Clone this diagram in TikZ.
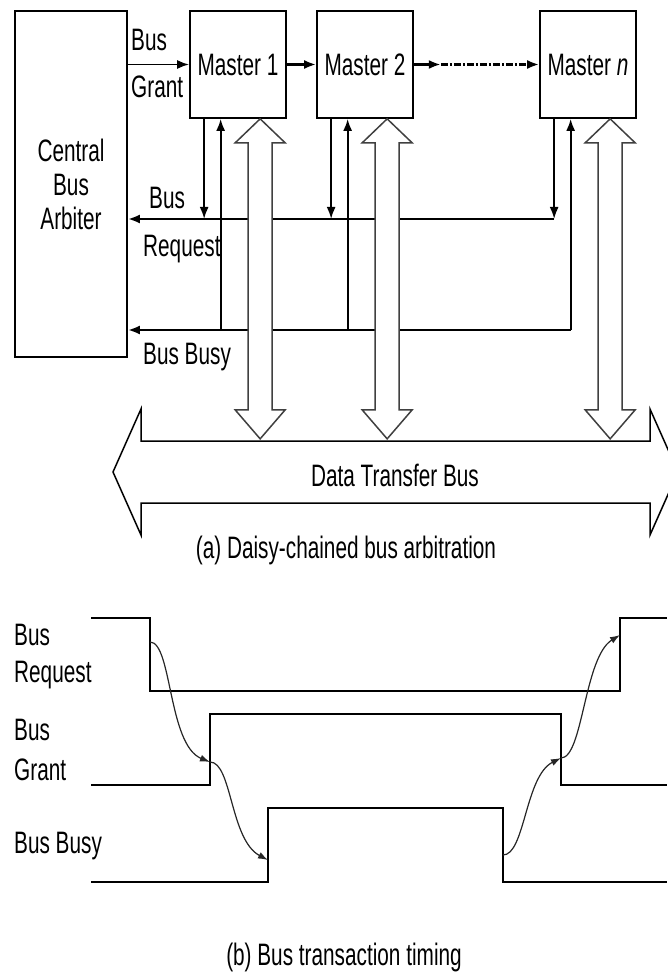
\documentclass[tikz,border=0pt]{standalone}
\usepackage{fontspec}
\setmainfont{Liberation Sans}[FakeStretch=0.67]
\usetikzlibrary{arrows.meta,positioning,calc}

\begin{document}
\begin{tikzpicture}[>={Latex[length=12pt,width=9pt]},x=1pt,y=-1pt,
  every node/.style={font=\fontsize{31}{34}\selectfont},
  box/.style={draw,line width=1.7pt,minimum width=96pt,minimum height=107pt,inner sep=0pt},
  lbl/.style={anchor=base west,inner sep=0pt},
  wire/.style={line width=1.9pt},
  busline/.style={line width=2.6pt},
  hollow/.style={draw=black!75,line width=1.5pt,fill=white},
  signal/.style={line width=2.5pt},
  cause/.style={line width=1.2pt,draw=black!85,->,>={Latex[length=10pt,width=7pt]}}]
\useasboundingbox (0,0) rectangle (667,973);

% (a) daisy chain
\node[box,minimum width=112pt,minimum height=346pt,align=center] (arb) at (71,184) {Central\\Bus\\Arbiter};
\node[box] (m1) at (238,64.5) {Master 1};
\node[box] (m2) at (365,64.5) {Master 2};
\node[box] (mn) at (588,64.5) {Master \textit{n}};

\draw[wire,->] (arb.east |- m1.west) -- (m1.west);
\draw[busline,->] (m1) -- (m2);
\draw[busline,->] (m2.east) -- ++(27,0) coordinate (skip);
\draw[busline,->,dash pattern=on 7pt off 2pt on 2pt off 2pt] (skip) -- (mn.west);
\node[lbl] (gbus) at (131,51) {Bus};
\node[lbl] (ggrant) at (131,98) {Grant};

\coordinate (rqy) at (0,219);
\coordinate (byy) at (0,330);
\foreach \m in {m1,m2,mn} {
  \coordinate (\m-rq) at ($(\m.south west)+(15,0)$);
  \coordinate (\m-by) at ($(\m.south west)+(31.5,0)$);
  \coordinate (\m-dt) at ($(\m.south west)+(71,0)$);
  \draw[wire,->] (\m-rq) -- (\m-rq |- rqy);
  \draw[wire,->] (\m-by |- byy) -- (\m-by);
}
\draw[busline,->] (mn-rq |- rqy) -- (arb.east |- rqy);
\draw[busline,->] (mn-by |- byy) -- (arb.east |- byy);
\node[lbl] (rbus) at (149,209) {Bus};
\node[lbl] (rreq) at (143,257) {Request};
\node[lbl] (bbusy) at (143,364) {Bus Busy};

% hollow data paths
\foreach \m in {m1,m2,mn}
  \draw[hollow] (\m-dt) -- ++(25,24) -- ++(-13,0) -- ++(0,267) -- ++(13,0) -- ++(-25,29)
    -- ++(-25,-29) -- ++(13,0) -- ++(0,-267) -- ++(-13,0) -- cycle;
\draw[hollow,draw=black] (113,472) -- (141,409) -- (141,441) -- (650,441) -- (650,409) -- (678,472)
  -- (650,535) -- (650,503) -- (141,503) -- (141,535) -- cycle;
\node[anchor=base] (dtb) at (395,486) {Data Transfer Bus};
\node[anchor=base] (capa) at (346,558) {(a) Daisy-chained bus arbitration};

% (b) timing
\draw[signal] (91,618) -- (150,618) -- (150,691) -- (620,691) -- (620,618) -- (667,618);
\draw[signal] (91,785) -- (210,785) -- (210,714) -- (561,714) -- (561,785) -- (667,785);
\draw[signal] (91,882) -- (268,882) -- (268,808) -- (503,808) -- (503,882) -- (667,882);
\coordinate (rqfall) at (150,642);
\coordinate (gtrise) at (210,762);
\coordinate (byrise) at (268,860);
\coordinate (byfall) at (503,855);
\coordinate (gtfall) at (561,758);
\coordinate (rqrise) at (620,635);
\draw[cause] (rqfall) .. controls +(22,0) and +(-42,-17) .. (gtrise);
\draw[cause] (gtrise) .. controls +(22,0) and +(-38,-20) .. (byrise);
\draw[cause] (byfall) .. controls +(22,0) and +(-36,18) .. (gtfall);
\draw[cause] (gtfall) .. controls +(22,0) and +(-36,22) .. (rqrise);
\node[lbl] (tqa) at (14,645) {Bus};
\node[lbl] (tqb) at (14,682) {Request};
\node[lbl] (tga) at (14,740) {Bus};
\node[lbl] (tgb) at (14,780) {Grant};
\node[lbl] (tby) at (14,853) {Bus Busy};
\node[anchor=base] (capb) at (344,965) {(b) Bus transaction timing};
\end{tikzpicture}
\end{document}
